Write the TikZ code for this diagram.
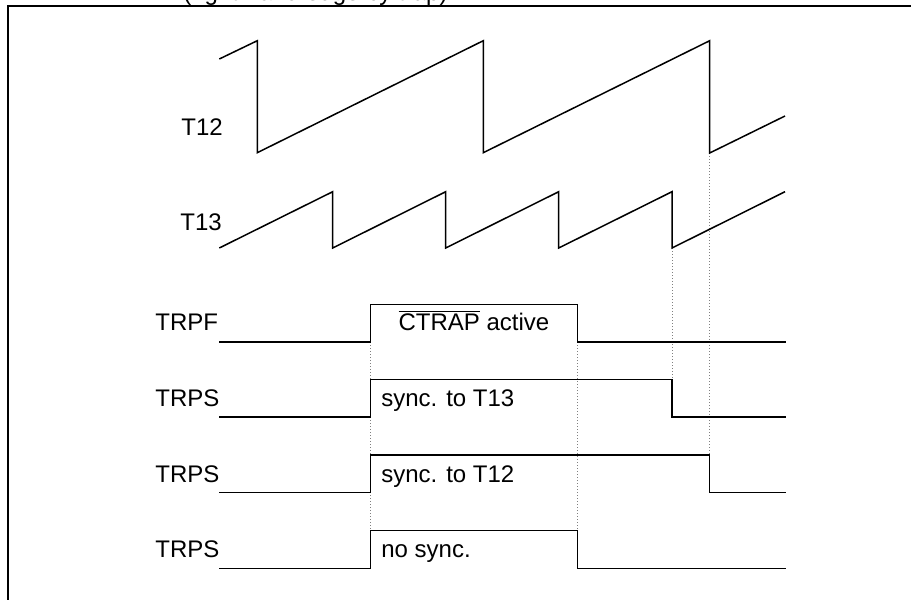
\documentclass[tikz,border=0pt]{standalone}
\usepackage{fontspec}
\setmainfont{Liberation Sans}

\tikzset{
  wave/.style={line width=0.75pt, line join=miter},
  guide/.style={densely dotted, gray, line width=0.5pt},
  lbl/.style={anchor=base west, inner sep=0pt}
}

\begin{document}
\begin{tikzpicture}[x=0.5pt, y=-0.5pt, every node/.style={font=\fontsize{12}{14}\selectfont}]
  \useasboundingbox (0,0) rectangle (911,600);

  % frame and cut-off caption
  \begin{scope}
    \clip (0,0) rectangle (911,600);
    \node[lbl] (caption) at (183,0) {(right-hand edge by trap)};
    \draw[line width=1.1pt] (8,602) -- (8,6) -- (913,6);
  \end{scope}

  % guide lines
  \draw[guide] (370.7,342) -- (370.7,530.7);
  \draw[guide] (577.7,342) -- (577.7,530.7);
  \draw[guide] (672,248) -- (672,379.7);
  \draw[guide] (709.7,153) -- (709.7,455);

  % timers
  \node[lbl] (lblT12) at (181,135) {T12};
  \draw[wave] (219.3,59) -- (257.3,40.7) -- (257.3,152.7) -- (483.3,40.7) -- (483.3,152.7)
    -- (709.7,40.7) -- (709.7,153) -- (785,116);

  \node[lbl] (lblT13) at (180,230) {T13};
  \draw[wave] (219.3,248) foreach \t in {332.7,445.7,558.7,672} { -- (\t,191.7) -- (\t,248) }
    -- (785,191.7);

  % trap flag / trap state
  \node[lbl] (lblTRPF) at (155,330.7) {TRPF};
  \draw[wave] (219.3,342) -- (370.7,342) -- (370.7,304.3) -- (577.7,304.3) -- (577.7,342) -- (785.7,342);
  \node[lbl, anchor=base] (txtTRPF) at (474,330.7) {$\overline{\mbox{CTRAP}}$ active};

  \node[lbl] (lblTRPSa) at (155,406.6) {TRPS};
  \draw[wave] (219.3,417) -- (370.7,417) -- (370.7,379.7) -- (672,379.7) -- (672,417) -- (785.7,417);
  \node[lbl] (txtTRPSa) at (381,406.6) {sync. to T13};

  \node[lbl] (lblTRPSb) at (155,482.3) {TRPS};
  \draw[wave] (219.3,492.3) -- (370.7,492.3) -- (370.7,455) -- (709.7,455) -- (709.7,492.3) -- (785.7,492.3);
  \node[lbl] (txtTRPSb) at (381,482.3) {sync. to T12};

  \node[lbl] (lblTRPSc) at (155,557.3) {TRPS};
  \draw[wave] (219.3,568.7) -- (370.7,568.7) -- (370.7,530.7) -- (577.7,530.7) -- (577.7,568.7) -- (785.7,568.7);
  \node[lbl] (txtTRPSc) at (381,557.3) {no sync.};
\end{tikzpicture}
\end{document}
